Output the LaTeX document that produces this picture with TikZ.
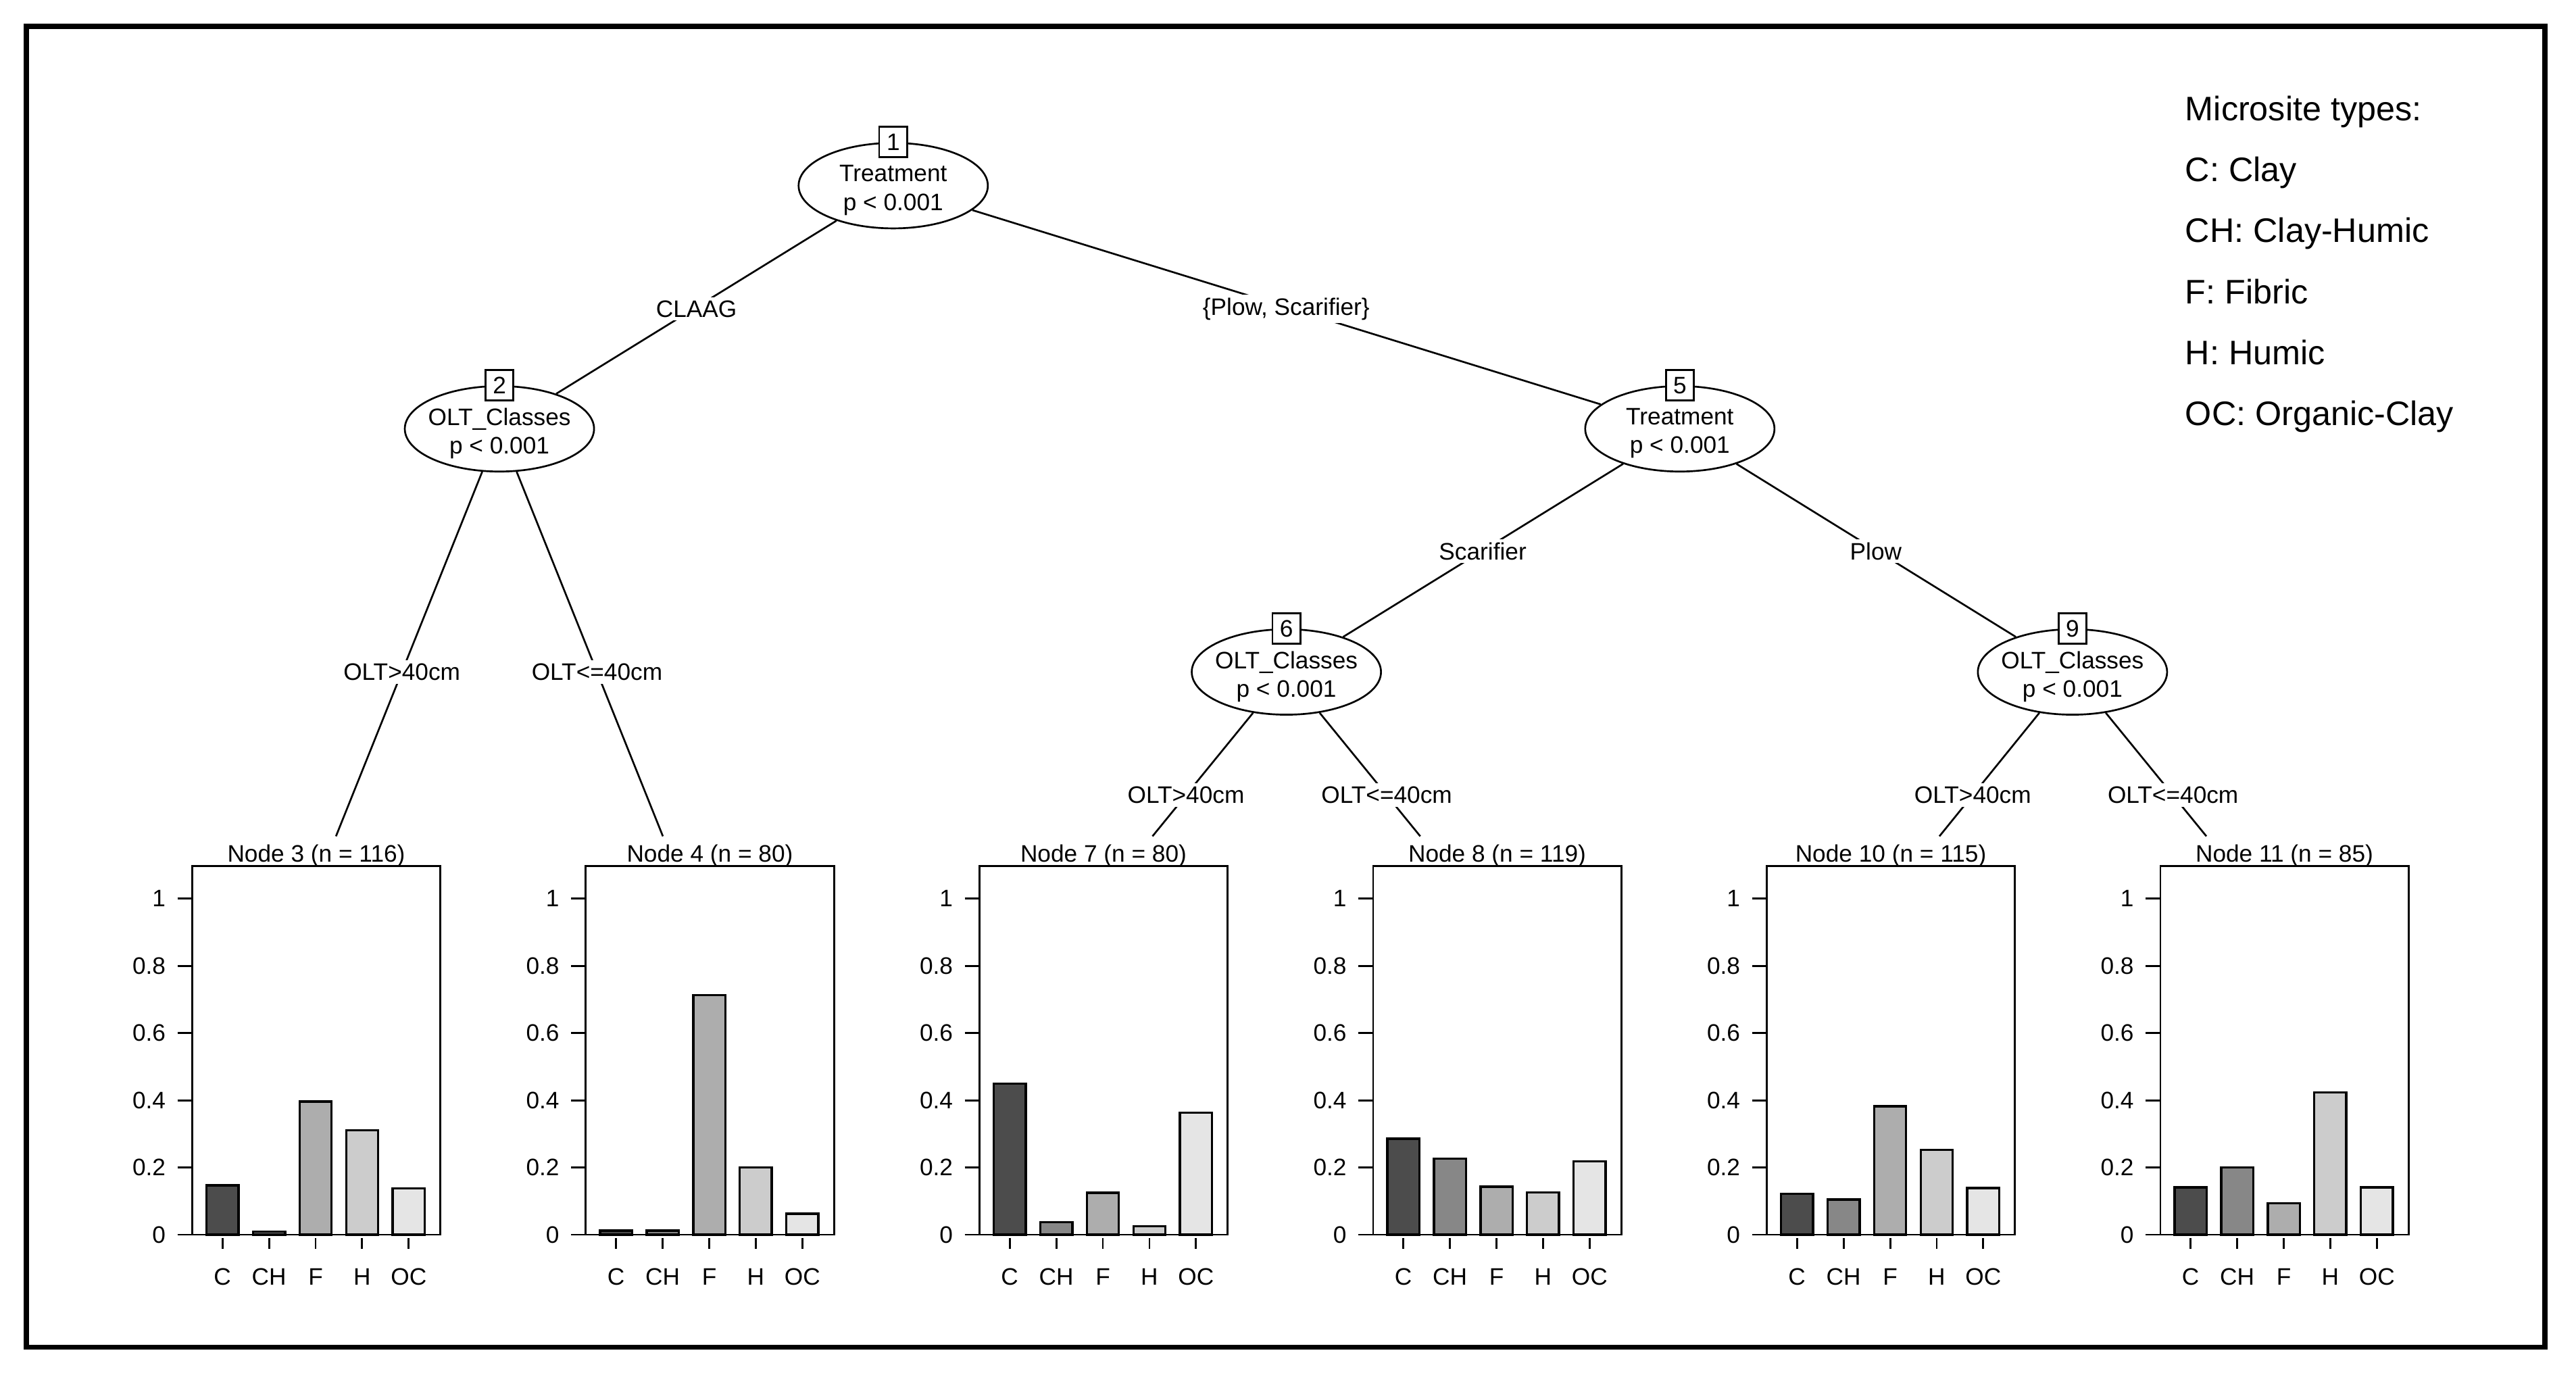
\documentclass[tikz,border=0pt]{standalone}
\usepackage{fontspec}
\setmainfont{Liberation Sans}
\usetikzlibrary{shapes.geometric}
\definecolor{bc0}{gray}{0.30}
\definecolor{bc1}{gray}{0.53}
\definecolor{bc2}{gray}{0.68}
\definecolor{bc3}{gray}{0.80}
\definecolor{bc4}{gray}{0.90}
\newcommand\catname[1]{\ifcase#1 C\or CH\or F\or H\or OC\fi}
\newcommand\drawpanel[4]{%
  \pgfmathsetmacro\pl{#1}%
  \pgfmathsetmacro\pr{#1+151}%
  \pgfmathsetmacro\pc{#1+75.5}%
  \draw[axisline] (\pl,751.5) rectangle (\pr,527);
  \draw[axisline] (\pl-9,751.5) -- (\pl,751.5);
  \node[paneltitle] (p#4title) at (\pc,524.5) {#2};
  \foreach \t/\lab [count=\j] in {0/0,0.2/0.2,0.4/0.4,0.6/0.6,0.8/0.8,1/1} {
    \draw[axisline] (\pl-9,751.5-\t*204.5) -- (\pl,751.5-\t*204.5);
    \node[ticklabel] (p#4y\j) at (\pl-15,751.5-\t*204.5) {\lab};
  }
  \foreach \v [count=\i from 0] in {#3} {
    \draw[barline, fill=bc\i] (\pl+8.65+28.35*\i,751.5) rectangle ++(19.5,-\v*204.5);
    \draw[axisline] (\pl+18.4+28.35*\i,753.5) -- (\pl+18.4+28.35*\i,760);
    \node[catlabel] (p#4x\i) at (\pl+18.4+28.35*\i,777) {\catname{\i}};
  }
}
\begin{document}
\begin{tikzpicture}[x=1pt,y=-1pt,
  every node/.style={font=\fontsize{14.5}{17.4}\selectfont},
  splitnode/.style={ellipse, draw, fill=white, minimum width=115.2, minimum height=52, inner sep=0pt, line width=1.1pt},
  splittext/.style={align=center, inner sep=0pt},
  numbox/.style={draw, fill=white, minimum width=17, minimum height=18.5, inner sep=0pt, line width=1.1pt},
  edge/.style={line width=1.1pt},
  lbl/.style={fill=white, inner sep=2pt},
  axisline/.style={line width=1.2pt},
  barline/.style={line width=1.4pt},
  paneltitle/.style={anchor=base, inner sep=0pt},
  ticklabel/.style={anchor=east, inner sep=1pt},
  catlabel/.style={inner sep=0pt},
  legend/.style={anchor=base west, inner sep=0pt, font=\fontsize{20.7}{24}\selectfont}
]
\useasboundingbox (0,0) rectangle (1568,841);
\fill[white] (0,0) rectangle (1568,841);
\draw[line width=3pt] (16,16) rectangle (1549,820);

% inner nodes
\node[splitnode] (n1) at (543.7,113) {};
\node[splitnode] (n2) at (304,261) {};
\node[splitnode] (n5) at (1022.5,261) {};
\node[splitnode] (n6) at (783,409) {};
\node[splitnode] (n9) at (1261.5,409) {};

\node[splittext] (n1t) at (543.7,115.8) {Treatment\\p < 0.001};
\node[splittext] (n2t) at (304,263.8) {OLT\_Classes\\p < 0.001};
\node[splittext] (n5t) at (1022.5,263.8) {Treatment\\p < 0.001};
\node[splittext] (n6t) at (783,411.8) {OLT\_Classes\\p < 0.001};
\node[splittext] (n9t) at (1261.5,411.8) {OLT\_Classes\\p < 0.001};

\node[numbox] (b1) at (543.7,86.5) {1};
\node[numbox] (b2) at (304,234.5) {2};
\node[numbox] (b5) at (1022.5,234.5) {5};
\node[numbox] (b6) at (783,382.5) {6};
\node[numbox] (b9) at (1261.5,382.5) {9};

% terminal attachment points
\coordinate (t3) at (204.5,509);
\coordinate (t4) at (403.5,509);
\coordinate (t7) at (701.5,509);
\coordinate (t8) at (864.5,509);
\coordinate (t10) at (1180.5,509);
\coordinate (t11) at (1343,509);

% edges
\draw[edge] (n1) -- (n2);
\draw[edge] (n1) -- (n5);
\draw[edge] (n2) -- (t3);
\draw[edge] (n2) -- (t4);
\draw[edge] (n5) -- (n6);
\draw[edge] (n5) -- (n9);
\draw[edge] (n6) -- (t7);
\draw[edge] (n6) -- (t8);
\draw[edge] (n9) -- (t10);
\draw[edge] (n9) -- (t11);

% edge labels
\node[lbl] (l12) at (423.9,188) {CLAAG};
\node[lbl] (l15) at (782.9,188) {\{Plow, Scarifier\}};
\node[lbl] (l23) at (244.6,409) {OLT>40cm};
\node[lbl] (l24) at (363.4,409) {OLT<=40cm};
\node[lbl] (l56) at (902.5,335.5) {Scarifier};
\node[lbl] (l59) at (1141.8,335.5) {Plow};
\node[lbl] (l67) at (721.9,484) {OLT>40cm};
\node[lbl] (l68) at (844.1,484) {OLT<=40cm};
\node[lbl] (l910) at (1200.8,484) {OLT>40cm};
\node[lbl] (l911) at (1322.7,484) {OLT<=40cm};

% terminal panels
\drawpanel{117}{Node 3 (n = 116)}{0.1466,0.0086,0.3966,0.3103,0.1379}{3}
\drawpanel{356.6}{Node 4 (n = 80)}{0.0125,0.0125,0.7125,0.2,0.0625}{4}
\drawpanel{596.2}{Node 7 (n = 80)}{0.45,0.0375,0.125,0.025,0.3625}{7}
\drawpanel{835.8}{Node 8 (n = 119)}{0.2857,0.2269,0.1429,0.1261,0.2185}{8}
\drawpanel{1075.4}{Node 10 (n = 115)}{0.1217,0.1043,0.3826,0.2522,0.1391}{10}
\drawpanel{1315}{Node 11 (n = 85)}{0.1412,0.2,0.0941,0.4235,0.1412}{11}

% legend
\node[legend] (lg0) at (1330,73.4) {Microsite types:};
\node[legend] (lg1) at (1330,110.5) {C: Clay};
\node[legend] (lg2) at (1330,147.6) {CH: Clay-Humic};
\node[legend] (lg3) at (1330,184.7) {F: Fibric};
\node[legend] (lg4) at (1330,221.8) {H: Humic};
\node[legend] (lg5) at (1330,258.9) {OC: Organic-Clay};
\end{tikzpicture}
\end{document}
